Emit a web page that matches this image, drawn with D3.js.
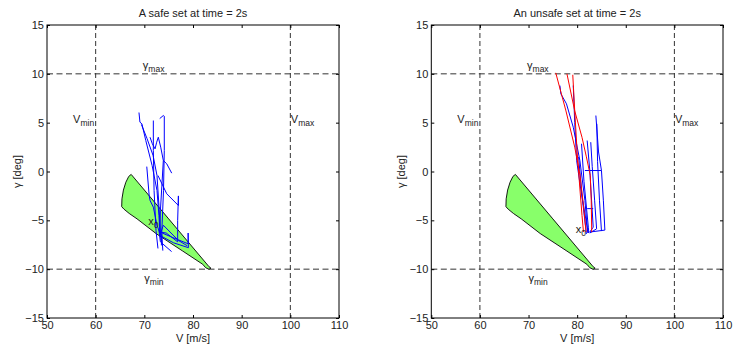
<!DOCTYPE html>
<html>
<head>
<meta charset="utf-8">
<script src="https://cdn.jsdelivr.net/npm/d3@7"></script>
<style>
  html, body { margin: 0; padding: 0; background: #fff; }
  svg { display: block; font-family: "Liberation Sans", Arial, Helvetica, sans-serif; }
</style>
</head>
<body>
<svg id="chart" width="734" height="350"></svg>
<script>
// ---------------- data ----------------
const xTicks = [50, 60, 70, 80, 90, 100, 110];
const yTicks = [-15, -10, -5, 0, 5, 10, 15];
const xDomain = [50, 110];
const yDomain = [-15, 15];
const titles = ["A safe set at time = 2s", "An unsafe set at time = 2s"];
const xLabel = "V [m/s]";
const yLabel = "γ [deg]";
const vLimits = [60, 100];        // V_min, V_max
const gammaLimits = [-10, 10];    // γ_min, γ_max

// safe-set polygon (V, γ)
const safeSetV = [67.3, 75.0, 83.3, 83.7, 83.3, 82.6, 82.0, 77.9, 72.4, 68.5, 66.9, 65.8, 65.35, 65.4, 65.7, 66.2, 66.8];
const safeSetG = [-0.3, -4.85, -9.75, -9.9, -10.02, -9.85, -9.5, -8.15, -6.35, -4.85, -4.3, -3.85, -3.6, -2.8, -1.9, -1.1, -0.5];

// left panel: blue simulated trajectories ([V, γ])
const safeBlue = [
  [[68.9, 6.04], [69.1, 5.05], [69.5, 4.88], [70.3, 3.17], [71.6, 0.61], [72.6, -1.94], [73.0, -4.5], [73.2, -6.35]],
  [[69.4, 4.81], [70.55, 3.38], [71.8, 1.64], [72.6, -0.41], [73.0, -3.48], [73.4, -7.06]],
  [[71.85, 5.22], [71.85, 2.15], [72.0, -1.94], [72.4, -6.04], [72.8, -7.88]],
  [[73.16, 5.42], [73.9, 5.73], [74.1, 5.66], [74.1, 2.15], [73.94, -1.94], [73.6, -6.04], [73.5, -7.57]],
  [[71.17, 3.51], [71.64, 2.84], [72.2, 2.32], [72.54, 3.0], [72.87, 3.51], [73.37, 2.49], [73.9, 1.13], [74.6, 0.79], [75.63, -0.17]],
  [[73.9, 1.13], [73.6, -1.5], [73.3, -4.0], [73.2, -6.3]],
  [[72.8, -0.41], [74.6, -2.28], [77.0, -3.48], [77.0, -2.5], [76.85, -5.0], [76.85, -7.2], [74.5, -6.3], [73.2, -6.2]],
  [[73.2, -6.2], [76.5, -6.9], [79.0, -7.4], [79.0, -6.3], [79.05, -7.8], [76.0, -7.3], [73.4, -6.6]],
  [[73.3, -6.4], [73.9, -5.5], [77.0, -7.06], [78.8, -7.6]],
  [[73.0, -6.0], [73.3, -7.2], [75.6, -8.2]],
  [[73.6, -6.4], [73.8, -8.1]],
  [[70.5, 0.5], [71.0, -2.5], [71.2, -3.0], [71.85, -3.65], [72.6, -5.5], [73.2, -6.3]]
];

// right panel: blue and red trajectories ([V, γ])
const unsafeBlue = [
  [[76.45, 8.8], [76.65, 7.95], [77.8, 6.93], [79.2, 4.53], [80.56, 1.13], [81.6, -2.97], [82.06, -5.7], [82.2, -6.3]],
  [[79.2, 8.8], [79.5, 5.0], [79.9, 1.1], [80.8, -2.0], [82.0, -5.5], [82.3, -6.3]],
  [[80.9, 2.84], [81.4, -1.0], [82.3, -5.7], [82.4, -6.3]],
  [[82.06, 3.17], [82.6, 0.1], [83.3, -5.7], [82.6, -6.2]],
  [[82.8, 3.0], [83.1, 0.5], [83.6, -3.0], [84.0, -5.87], [82.6, -6.3]],
  [[83.85, 5.73], [84.4, 2.0], [85.0, 0.1], [85.4, -3.0], [85.7, -6.0], [82.6, -6.2]],
  [[84.05, 4.88], [84.2, 1.0], [84.6, -3.0], [85.0, -6.1]],
  [[81.6, 0.1], [85.0, 0.1]],
  [[82.06, -3.8], [83.3, -3.8]],
  [[80.3, 1.5], [81.0, -2.5], [81.9, -6.4]]
];
const unsafeRed = [
  [[75.6, 10.1], [77.7, 6.2], [79.5, 2.5], [80.6, -0.4], [81.3, -3.5], [81.85, -6.2]],
  [[77.9, 10.0], [79.5, 6.2], [81.0, 3.5], [81.9, 1.5], [82.7, -0.4], [82.9, -3.0], [83.0, -6.2]],
  [[79.1, 9.9], [79.5, 6.2], [80.0, 2.0], [80.6, -2.0], [81.0, -4.5], [81.3, -6.2]]
];

// x0 label anchors per panel
const x0Labels = [[70.8, -5.5], [79.7, -6.33]];

// ---------------- drawing ----------------
const svg = d3.select("#chart");
const plotTop = 25, plotBottom = 318;
const panelsX = [[47, 339], [431.3, 723]];
const panelBlue = [safeBlue, unsafeBlue];
const panelRed = [[], unsafeRed];
const fontSize = 11;
const safeSet = safeSetV.map((v, i) => [v, safeSetG[i]]);

panelsX.forEach((px, pi) => {
  const x = d3.scaleLinear().domain(xDomain).range(px);
  const y = d3.scaleLinear().domain(yDomain).range([plotBottom, plotTop]);
  const g = svg.append("g");
  const line = d3.line().x(d => x(d[0])).y(d => y(d[1]));

  // safe set
  g.append("path")
    .attr("d", line(safeSet) + "Z")
    .attr("fill", "#88ff6a")
    .attr("stroke", "#000")
    .attr("stroke-width", 0.9)
    .attr("stroke-linejoin", "round");

  // limit lines
  const dashColor = "#333";
  vLimits.forEach(v => {
    g.append("line").attr("x1", x(v)).attr("x2", x(v)).attr("y1", plotTop).attr("y2", plotBottom)
      .attr("stroke", dashColor).attr("stroke-width", 1).attr("stroke-dasharray", "5,3");
  });
  gammaLimits.forEach(gm => {
    g.append("line").attr("x1", px[0]).attr("x2", px[1]).attr("y1", y(gm)).attr("y2", y(gm))
      .attr("stroke", dashColor).attr("stroke-width", 1).attr("stroke-dasharray", "6,3.5");
  });

  // trajectories
  panelBlue[pi].forEach(tr => {
    g.append("path").attr("d", line(tr)).attr("fill", "none")
      .attr("stroke", "#0000ff").attr("stroke-width", 1).attr("stroke-linejoin", "round");
  });
  panelRed[pi].forEach(tr => {
    g.append("path").attr("d", line(tr)).attr("fill", "none")
      .attr("stroke", "#ff0000").attr("stroke-width", 1).attr("stroke-linejoin", "round");
  });

  // labels helper with subscript
  function subLabel(xp, yp, main, sub, anchor) {
    const t = g.append("text").attr("x", xp).attr("y", yp)
      .attr("font-size", fontSize).attr("fill", "#222").attr("text-anchor", anchor || "start");
    t.append("tspan").text(main);
    t.append("tspan").attr("font-size", 8.5).attr("dy", 3).text(sub);
    return t;
  }
  subLabel(x(vLimits[0]) - 1.5, y(4.93), "V", "min", "end");
  subLabel(x(vLimits[1]) + 0.5, y(4.93), "V", "max", "start");
  subLabel(x(69.7), y(10.5), "γ", "max", "start");
  subLabel(x(70.0), y(-11.3), "γ", "min", "start");
  subLabel(x(x0Labels[pi][0]), y(x0Labels[pi][1]), "x", "0", "start");

  // axes with inward ticks
  const axB = d3.axisBottom(x).tickValues(xTicks).tickSizeInner(-3).tickSizeOuter(0).tickPadding(3);
  const axL = d3.axisLeft(y).tickValues(yTicks).tickSizeInner(-3).tickSizeOuter(0).tickPadding(3);
  const axT = d3.axisTop(x).tickValues(xTicks).tickSizeInner(-3).tickSizeOuter(0).tickFormat("");
  const axR = d3.axisRight(y).tickValues(yTicks).tickSizeInner(-3).tickSizeOuter(0).tickFormat("");

  function styleAxis(sel) {
    sel.select(".domain").remove();
    sel.selectAll("line").attr("stroke", "#000");
    sel.selectAll("text").attr("font-size", fontSize).attr("fill", "#222")
      .attr("font-family", "'Liberation Sans', Arial, sans-serif");
  }
  g.append("g").attr("transform", `translate(0,${plotBottom})`).call(axB).call(styleAxis);
  g.append("g").attr("transform", `translate(${px[0]},0)`).call(axL).call(styleAxis);
  g.append("g").attr("transform", `translate(0,${plotTop})`).call(axT).call(styleAxis);
  g.append("g").attr("transform", `translate(${px[1]},0)`).call(axR).call(styleAxis);

  // box
  g.append("rect").attr("x", px[0]).attr("y", plotTop)
    .attr("width", px[1] - px[0]).attr("height", plotBottom - plotTop)
    .attr("fill", "none").attr("stroke", "#000").attr("stroke-width", 1);

  // title & axis labels
  const cx = (px[0] + px[1]) / 2;
  g.append("text").attr("x", cx).attr("y", 17).attr("text-anchor", "middle")
    .attr("font-size", fontSize).attr("fill", "#222").text(titles[pi]);
  g.append("text").attr("x", cx).attr("y", 341.5).attr("text-anchor", "middle")
    .attr("font-size", fontSize).attr("fill", "#222").text(xLabel);
  const ly = (plotTop + plotBottom) / 2;
  const lx = px[0] - 26;
  g.append("text").attr("transform", `translate(${lx},${ly}) rotate(-90)`)
    .attr("text-anchor", "middle").attr("font-size", fontSize).attr("fill", "#222").text(yLabel);
});
</script>
</body>
</html>
